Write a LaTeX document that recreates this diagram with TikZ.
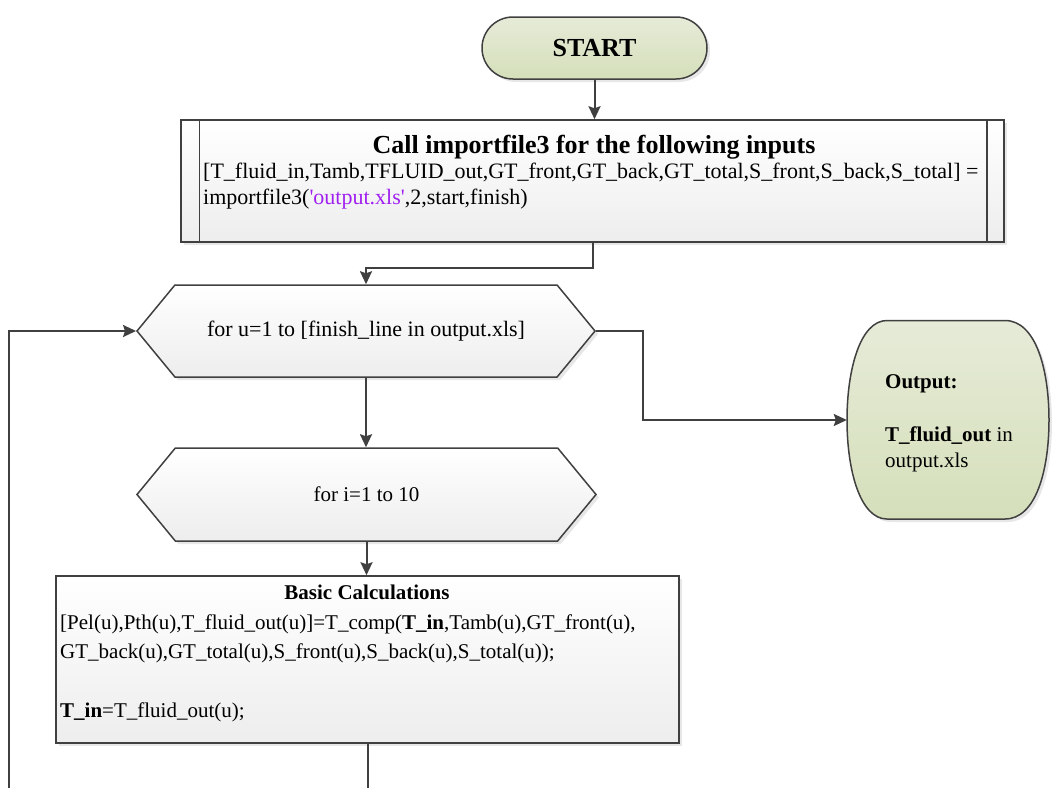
\documentclass[tikz,border=0pt]{standalone}
\usepackage{fontspec}
\setmainfont{Liberation Serif}
\usetikzlibrary{positioning,
	calc,
	shapes.symbols,
	arrows.meta,
	shadows}
\definecolor{edge}{HTML}{404040}
\definecolor{oliveTop}{HTML}{E6EBD8}
\definecolor{oliveBot}{HTML}{D5DFBA}
\definecolor{xlsviolet}{HTML}{A020F0}
\tikzstyle{shade}=[drop shadow={shadow xshift=3pt, shadow yshift=-3pt,
		opacity=.35, fill=gray!55}]
\tikzstyle{flow}=[draw=edge, line width=1.5pt, top color=white,
		bottom color=gray!14, shade]
\tikzstyle{term}=[draw=edge, line width=1.5pt, top color=oliveTop,
		bottom color=oliveBot, shade]
\tikzstyle{loopbox}=[flow, signal, signal to=west and east,
		signal pointer angle=101, inner sep=0]
\tikzstyle{wire}=[draw=edge, line width=2pt]
\tikzstyle{link}=[wire, -{Stealth[length=13pt, width=12pt, inset=2pt]}]

\begin{document}
\begin{tikzpicture}[x=1pt, y=-1pt, font=\fontsize{21}{29.5}\selectfont]
	\useasboundingbox (0,0) rectangle (1057,788);

	% start terminal
	\node[term, rounded corners=31pt, minimum width=225pt, minimum height=62pt,
		font=\fontsize{26}{30}\selectfont\bfseries] (start) at (594.5,48) {START};

	% import call, with the two side bars
	\node[flow, minimum width=823pt, minimum height=122pt] (call) at (592.5,181) {};
	\draw[edge, line width=1.5pt] ([xshift=19pt]call.north west) -- ([xshift=19pt]call.south west);
	\draw[edge, line width=1.5pt] ([xshift=-18pt]call.north east) -- ([xshift=-18pt]call.south east);
	\node[anchor=base, font=\fontsize{26}{30}\selectfont\bfseries] (calltitle) at (594,153)
		{Call importfile3 for the following inputs};
	% base of a multi-line node is its last line
	\node[anchor=base west, align=left, inner sep=0, font=\fontsize{22}{26}\selectfont] (callargs) at (203,204)
		{[T\_fluid\_in,Tamb,TFLUID\_out,GT\_front,GT\_back,GT\_total,S\_front,S\_back,S\_total] =\\
		importfile3(\textcolor{xlsviolet}{\textquotesingle output.xls\textquotesingle},2,start,finish)};

	% outer and inner loops
	\node[loopbox, minimum width=458pt, minimum height=92pt, font=\fontsize{22}{26}\selectfont] (uloop) at (366,331)
		{for u=1 to [finish\_line in output.xls]};
	\node[loopbox, minimum width=459pt, minimum height=93pt] (iloop) at (366.5,494.5)
		{for i=1 to 10};

	% loop body
	\node[flow, minimum width=623pt, minimum height=167pt] (calc) at (367.5,659.5) {};
	\node[anchor=base, font=\fontsize{21}{29.5}\selectfont\bfseries] (calctitle) at (367,599)
		{Basic Calculations};
	\node[anchor=base west, align=left, inner sep=0] (calcbody) at (60,717.5)
		{[Pel(u),Pth(u),T\_fluid\_out(u)]=T\_comp(\textbf{T\_in},Tamb(u),GT\_front(u),\\
		GT\_back(u),GT\_total(u),S\_front(u),S\_back(u),S\_total(u));\\[29.5pt]
		\textbf{T\_in}=T\_fluid\_out(u);};

	% output terminal
	\path[term] (887,320.5) -- (1005,320.5)
		.. controls (1036,320.5) and (1049,370) .. (1049,420)
		.. controls (1049,470) and (1036,519) .. (1005,519) -- (887,519)
		.. controls (860,519) and (847,470) .. (847,420)
		.. controls (847,370) and (860,320.5) .. (887,320.5) -- cycle;
	\node[minimum width=202pt, minimum height=199pt, inner sep=0] (out) at (948,420) {};
	\node[anchor=base west, align=left, inner sep=0, font=\fontsize{21}{26.5}\selectfont] (outtext) at (885,467.5)
		{\textbf{Output:}\\[26.5pt]\textbf{T\_fluid\_out} in\\output.xls};

	% connectors
	\coordinate (loopfoot) at (8.5,788);
	\coordinate (exitbend) at (643,331);
	\draw[link] (start.south) -- (start.south |- call.north);
	\draw[link] (call.south) -- ++(0,25) -| (uloop.north);
	\draw[link] (uloop.south) -- (uloop.south |- iloop.north);
	\draw[link] (iloop.south) -- (iloop.south |- calc.north);
	\draw[link] (uloop.east) -- (exitbend) |- (out.west);
	\draw[wire] (calc.south) -- (calc.south |- loopfoot);
	\draw[link] (loopfoot) |- (uloop.west);
\end{tikzpicture}
\end{document}
